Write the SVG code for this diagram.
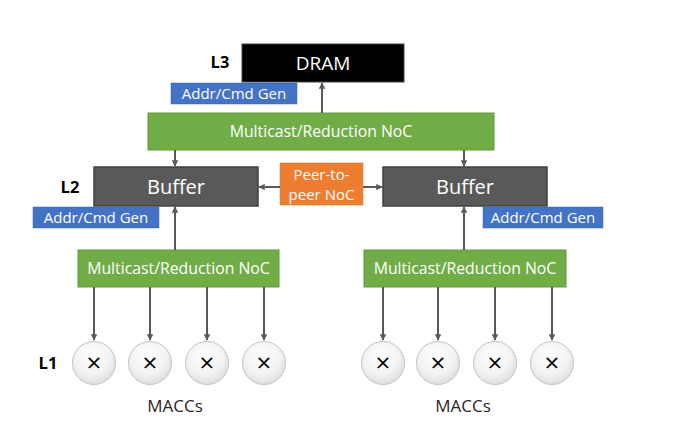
<svg xmlns="http://www.w3.org/2000/svg" width="689" height="431" viewBox="0 0 689 431">
<defs>
<marker id="ah" viewBox="0 0 10 10" refX="9" refY="5" markerWidth="3.2" markerHeight="3.2" orient="auto" markerUnits="strokeWidth">
<path d="M0,0 L10,5 L0,10 z" fill="#595959"/>
</marker>
<radialGradient id="cg" cx="0.45" cy="0.35" r="0.7">
<stop offset="0" stop-color="#ffffff"/>
<stop offset="0.6" stop-color="#f2f2f2"/>
<stop offset="1" stop-color="#d9d9d9"/>
</radialGradient>
</defs>
<style>
text{font-family:"Open Sans","Noto Sans","Liberation Sans",sans-serif;}
.w{fill:#ffffff;text-anchor:middle;}
.lvl{font-weight:bold;font-size:16.5px;fill:#000;text-anchor:middle;}
.green{fill:#70AD47;stroke:#5f9a3a;stroke-width:1;}
.blue{fill:#4472C4;stroke:#3a64b0;stroke-width:0.5;}
.buf{fill:#595959;stroke:#404040;stroke-width:1.5;}
.conn line{stroke:#595959;stroke-width:2;marker-end:url(#ah);}
.mac circle{fill:url(#cg);stroke:#c4c4c4;stroke-width:1;}
.mac text{font-size:26px;fill:#000;text-anchor:middle;}
.lab{font-size:17px;fill:#262626;text-anchor:middle;}
.nt{font-size:15.8px;}
.at{font-size:15px;}
</style>
<rect width="689" height="431" fill="#ffffff"/>

<g id="dram">
<rect x="242" y="44" width="162" height="38" fill="#000000" stroke="#404040" stroke-width="1"/>
<text class="w" x="323" y="70" font-size="19">DRAM</text>
</g>
<text class="lvl" x="220" y="68">L3</text>
<g id="addr-l3">
<rect class="blue" x="171" y="83" width="126" height="21"/>
<text class="w at" x="234" y="99">Addr/Cmd Gen</text>
</g>
<g id="noc-top">
<rect class="green" x="148" y="113" width="346" height="37"/>
<text class="w nt" x="321" y="137">Multicast/Reduction NoC</text>
</g>

<text class="lvl" x="70" y="193">L2</text>
<g id="buffer-left">
<rect class="buf" x="94" y="167" width="164" height="39"/>
<text class="w" x="176" y="194" font-size="20">Buffer</text>
</g>
<g id="addr-left">
<rect class="blue" x="33" y="207" width="126" height="21"/>
<text class="w at" x="96" y="223">Addr/Cmd Gen</text>
</g>
<g id="p2p">
<rect x="280" y="163" width="83" height="42" fill="#ED7D31" stroke="#e07020" stroke-width="0.5"/>
<text class="w" x="321.5" y="180" font-size="15">Peer-to-</text>
<text class="w" x="321.5" y="200" font-size="15">peer NoC</text>
</g>
<g id="buffer-right">
<rect class="buf" x="383" y="167" width="164" height="39"/>
<text class="w" x="465" y="194" font-size="20">Buffer</text>
</g>
<g id="addr-right">
<rect class="blue" x="483" y="207" width="120" height="21"/>
<text class="w at" x="543" y="223">Addr/Cmd Gen</text>
</g>

<g id="noc-left">
<rect class="green" x="78" y="250" width="201" height="37"/>
<text class="w nt" x="178.5" y="274">Multicast/Reduction NoC</text>
</g>
<g id="noc-right">
<rect class="green" x="364" y="250" width="202" height="37"/>
<text class="w nt" x="465" y="274">Multicast/Reduction NoC</text>
</g>

<g class="conn" id="connectors">
<line x1="322" y1="113" x2="322" y2="83"/>
<line x1="175" y1="150" x2="175" y2="166"/>
<line x1="464" y1="150" x2="464" y2="166"/>
<line x1="280" y1="187" x2="259" y2="187"/>
<line x1="363" y1="187" x2="382" y2="187"/>
<line x1="175" y1="250" x2="175" y2="207"/>
<line x1="464" y1="250" x2="464" y2="207"/>
<line x1="94" y1="287" x2="94" y2="340"/>
<line x1="150" y1="287" x2="150" y2="340"/>
<line x1="207" y1="287" x2="207" y2="340"/>
<line x1="264" y1="287" x2="264" y2="340"/>
<line x1="383" y1="287" x2="383" y2="340"/>
<line x1="438" y1="287" x2="438" y2="340"/>
<line x1="495" y1="287" x2="495" y2="340"/>
<line x1="552" y1="287" x2="552" y2="340"/>
</g>

<text class="lvl" x="48" y="369">L1</text>
<g class="mac" id="macc-l1"><circle cx="94" cy="363" r="21.5"/><text x="94" y="372">×</text></g>
<g class="mac" id="macc-l2"><circle cx="150" cy="363" r="21.5"/><text x="150" y="372">×</text></g>
<g class="mac" id="macc-l3"><circle cx="207" cy="363" r="21.5"/><text x="207" y="372">×</text></g>
<g class="mac" id="macc-l4"><circle cx="264" cy="363" r="21.5"/><text x="264" y="372">×</text></g>
<g class="mac" id="macc-r1"><circle cx="383" cy="363" r="21.5"/><text x="383" y="372">×</text></g>
<g class="mac" id="macc-r2"><circle cx="438" cy="363" r="21.5"/><text x="438" y="372">×</text></g>
<g class="mac" id="macc-r3"><circle cx="495" cy="363" r="21.5"/><text x="495" y="372">×</text></g>
<g class="mac" id="macc-r4"><circle cx="552" cy="363" r="21.5"/><text x="552" y="372">×</text></g>
<text class="lab" x="175" y="412">MACCs</text>
<text class="lab" x="463" y="412">MACCs</text>
</svg>
